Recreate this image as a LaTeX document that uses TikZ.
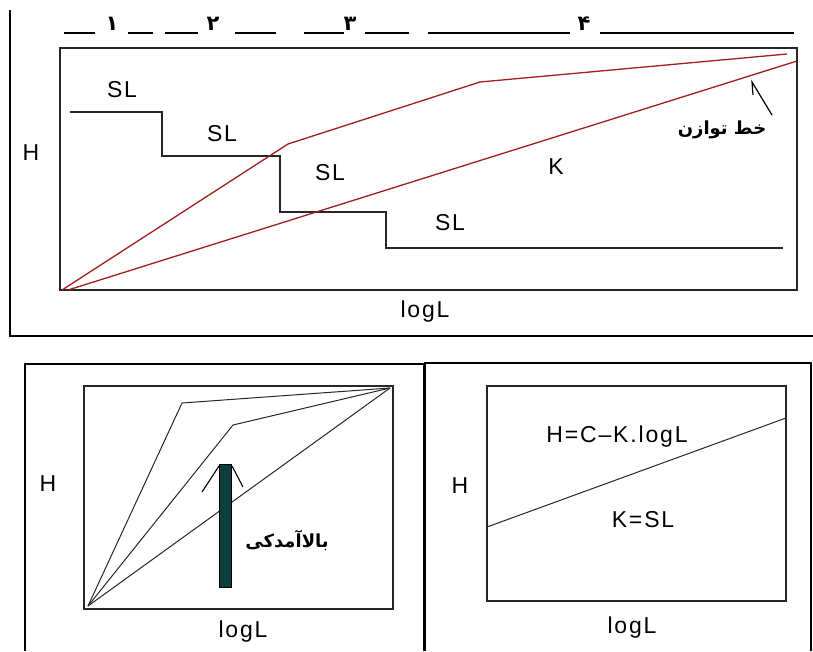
\documentclass[tikz,border=0pt]{standalone}
\usepackage{fontspec}
\setmainfont{Liberation Sans}[LetterSpace=8]
\newfontfamily\fa[Script=Arabic]{DejaVu Sans}
\TeXXeTstate=1
\definecolor{redline}{RGB}{160,30,30}
\definecolor{barfill}{RGB}{12,62,60}
\begin{document}
\begin{tikzpicture}[x=1pt,y=-1pt,
  frame/.style={line width=1.8pt,black},
  plotbox/.style={line width=1.5pt,black!85},
  stair/.style={line width=1.5pt,black!85},
  redl/.style={line width=1.3pt,redline},
  thin/.style={line width=1pt,black!85},
  lab/.style={inner sep=0pt,font=\fontsize{23}{25}\selectfont},
  digit/.style={inner sep=0pt,font=\fa\bfseries\fontsize{21}{22}\selectfont},
  fatext/.style={inner sep=0pt,font=\fa\bfseries\fontsize{18}{20}\selectfont},
  idxline/.style={line width=1.6pt,black}]
\useasboundingbox (0,0) rectangle (813,651);
% ===== top figure =====
\draw[frame] (10,10) -- (10,336) -- (813,336);
% index row
\foreach \a/\b in {64/95,128/153,165/198,235/276,304/344,365/409,428/570,600/794}
  \draw[idxline] (\a,33) -- (\b,33);
\node[digit] (d1) at (112,24) {۱};
\node[digit] (d2) at (213,24) {۲};
\node[digit] (d3) at (350,24) {۳};
\node[digit] (d4) at (584,24) {۴};
% plot box
\draw[plotbox] (60,48) rectangle (797,290);
\coordinate (o1) at (62,290);
\coordinate (o2) at (68,290);
\coordinate (k1) at (288,144);
\coordinate (k2) at (480,82);
\coordinate (e1) at (787,54);
\coordinate (e2) at (797,61);
% staircase
\draw[stair] (70,112) -| (162,156) -| (280,212) -| (386,248) -- (783,248);
% red lines
\draw[redl] (o1) -- (k1) -- (k2) -- (e1);
\draw[redl] (o2) -- (e2);
\node[lab] (sl1) at (122,90) {SL};
\node[lab] (sl2) at (222,134) {SL};
\node[lab] (sl3) at (330,173) {SL};
\node[lab] (sl4) at (450,223) {SL};
\node[lab] (k) at (556,167) {K};
\node[lab] (h1) at (31,153) {H};
\node[lab] (x1) at (425,312) {logL};
% equilibrium line label and pointer
\node[fatext] (eq) at (722,130) {\beginR خط توازن\endR};
\coordinate (tip) at (752,82);
\draw[line width=1.2pt] (753,95) -- (tip) -- (772,115);
% ===== bottom-left figure =====
\draw[frame] (25,651) -- (25,364) -- (424,364) -- (424,651);
\draw[plotbox] (84,386) rectangle (393,609);
\coordinate (bo) at (88,606);
\coordinate (bt) at (390,388);
\draw[thin] (bo) -- (182,403) -- (bt);
\draw[thin] (bo) -- (233,425) -- (bt);
\draw[thin] (bo) -- (bt);
\draw[line width=1pt,fill=barfill] (219,464) rectangle (231,587);
\draw[line width=1.1pt] (202,492) -- (219,466);
\draw[line width=1.1pt] (232,466) -- (243,487);
\node[fatext] (up) at (287,540) {\beginR بالاآمدکی\endR};
\node[lab] (h2) at (48,484) {H};
\node[lab] (x2) at (243,632) {logL};
% ===== bottom-right figure =====
\draw[frame] (425,651) -- (425,363) -- (811,363) -- (811,651);
\draw[plotbox] (487,386) rectangle (786,601);
\draw[thin] (487,527) -- (786,418);
\node[lab] (h3) at (460,486) {H};
\node[lab] (eqn) at (617,437) {H=C–K.logL};
\node[lab] (ksl) at (643,520) {K=SL};
\node[lab] (x3) at (632,628) {logL};
\end{tikzpicture}
\end{document}
